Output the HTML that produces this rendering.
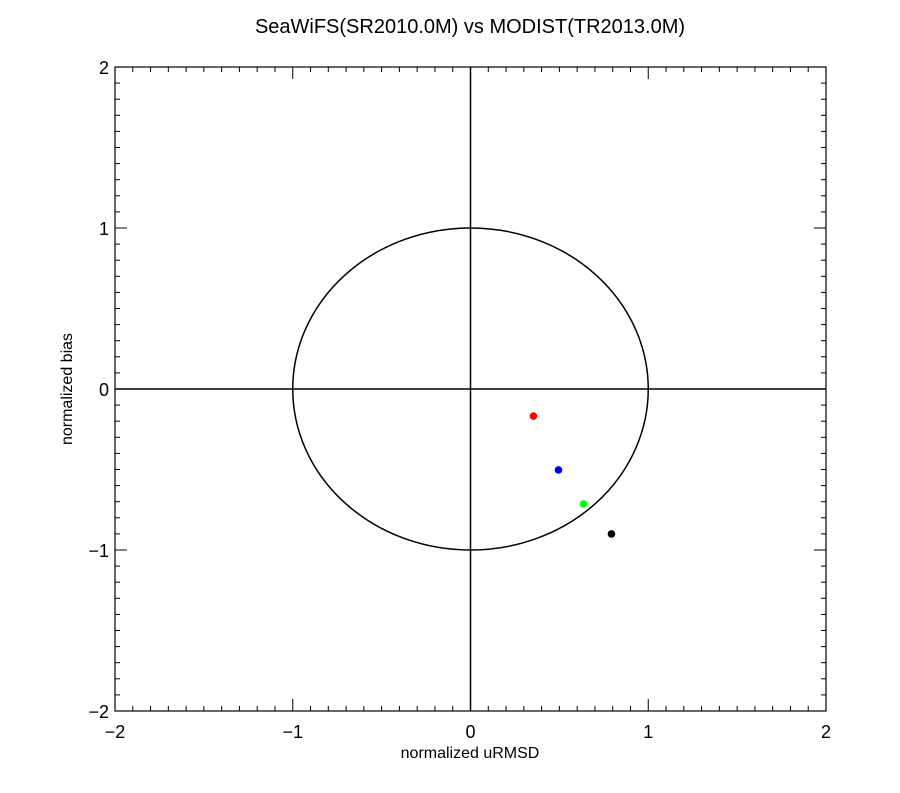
<!DOCTYPE html>
<html><head><meta charset="utf-8"><style>
body{margin:0;background:#fff;}
svg text{font-family:"Liberation Sans",sans-serif;fill:#000;}
</style></head><body>
<svg id="chart" width="900" height="788" xmlns="http://www.w3.org/2000/svg">
<rect width="900" height="788" fill="#fff"/>
<text x="470" y="33" font-size="20" text-anchor="middle">SeaWiFS(SR2010.0M) vs MODIST(TR2013.0M)</text>
<text x="470" y="758" font-size="16" text-anchor="middle">normalized uRMSD</text>
<text transform="translate(72,389) rotate(-90)" font-size="16" text-anchor="middle">normalized bias</text>
<g id="axes"></g>
<g id="marks"></g>
</svg>
<script>
const xTicks=[-2,-1,0,1,2];
const yTicks=[-2,-1,0,1,2];
const pointX=[0.354,0.495,0.636,0.793];
const pointY=[-0.168,-0.503,-0.714,-0.90];
const pointColors=["#ff0000","#0000ff","#00ff00","#000000"];
const pointNames=["point-red","point-blue","point-green","point-black"];

const L=115,R=826,T=67,B=711;
const sx=v=>L+(v+2)/4*(R-L);
const sy=v=>B-(v+2)/4*(B-T);
const NS="http://www.w3.org/2000/svg";
const axes=document.getElementById('axes'),marks=document.getElementById('marks');
function mk(tag,attrs,parent){const e=document.createElementNS(NS,tag);for(const k in attrs)e.setAttribute(k,attrs[k]);parent.appendChild(e);return e;}
const frame=mk('rect',{x:L,y:T,width:R-L,height:B-T,fill:'none',stroke:'#000','stroke-width':1.2},axes);


for(let i=-20;i<=20;i++){
  const v=i/10,maj=i%10===0,len=maj?12:5;
  const x=sx(v),y=sy(v);
  mk('line',{x1:x,y1:B,x2:x,y2:B-len,stroke:'#000','stroke-width':1},axes);
  mk('line',{x1:x,y1:T,x2:x,y2:T+len,stroke:'#000','stroke-width':1},axes);
  mk('line',{x1:L,y1:y,x2:L+len,y2:y,stroke:'#000','stroke-width':1},axes);
  mk('line',{x1:R,y1:y,x2:R-len,y2:y,stroke:'#000','stroke-width':1},axes);
}
xTicks.forEach(v=>{const t=mk('text',{x:sx(v),y:B+27,'font-size':18,'text-anchor':'middle'},axes);t.textContent=(v<0?'\u2212'+(-v):v);

});
yTicks.forEach(v=>{const t=mk('text',{x:L-6,y:sy(v)+7,'font-size':18,'text-anchor':'end'},axes);t.textContent=(v<0?'\u2212'+(-v):v);

});
const hx=mk('line',{x1:L,y1:sy(0),x2:R,y2:sy(0),stroke:'#000','stroke-width':1.5},axes);


const vy=mk('line',{x1:sx(0),y1:T,x2:sx(0),y2:B,stroke:'#000','stroke-width':1.5},axes);


const c=mk('ellipse',{cx:sx(0),cy:sy(0),rx:sx(1)-sx(0),ry:sy(0)-sy(1),fill:'none',stroke:'#000','stroke-width':1.5},axes);


pointX.forEach((v,i)=>{const p=mk('circle',{cx:sx(v),cy:sy(pointY[i]),r:3.8,fill:pointColors[i]},marks);

});
</script>
</body></html>
